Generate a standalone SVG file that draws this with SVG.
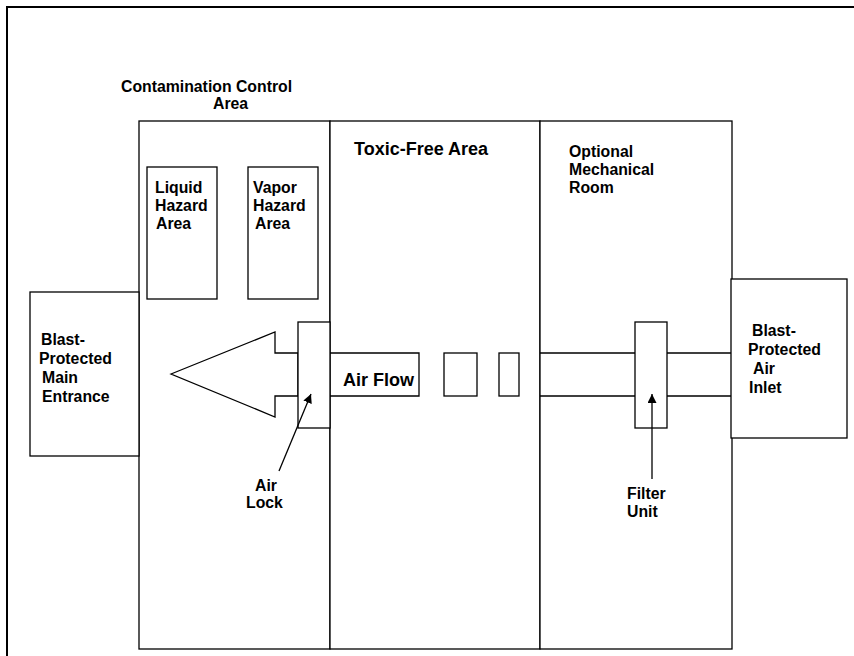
<svg xmlns="http://www.w3.org/2000/svg" width="854" height="656" viewBox="0 0 854 656">
<style>
.b{fill:#fff;stroke:#000;stroke-width:1.3}
.l{fill:none;stroke:#000;stroke-width:1.3}
text{font-family:"Liberation Sans",Arial,sans-serif;font-weight:bold;font-size:15.8px;fill:#000}
.big{font-size:18px}
</style>
<defs>
<marker id="ah" viewBox="0 0 10 10" refX="10" refY="5" markerWidth="9" markerHeight="9" markerUnits="userSpaceOnUse" orient="auto">
<path d="M0,0 L10,5 L0,10 Z" fill="#000"/>
</marker>
</defs>
<g id="frame">
<path d="M7,656 V7 H854" fill="none" stroke="#000" stroke-width="2"/>
</g>
<g id="contamination-control-area">
<rect class="b" x="139" y="121" width="191" height="528"/>
<text x="121" y="92">Contamination Control</text>
<text x="213" y="109">Area</text>
</g>
<g id="toxic-free-area">
<rect class="b" x="330" y="121" width="210" height="528"/>
<text class="big" x="354" y="155">Toxic-Free Area</text>
</g>
<g id="mechanical-room">
<rect class="b" x="540" y="121" width="192" height="528"/>
<text x="569" y="157">Optional</text>
<text x="569" y="175">Mechanical</text>
<text x="569" y="193">Room</text>
</g>
<g id="liquid-hazard">
<rect class="b" x="147" y="167" width="70" height="132"/>
<text x="155" y="193">Liquid</text>
<text x="155" y="211">Hazard</text>
<text x="156" y="229">Area</text>
</g>
<g id="vapor-hazard">
<rect class="b" x="248" y="167" width="70" height="132"/>
<text x="253" y="193">Vapor</text>
<text x="253" y="211">Hazard</text>
<text x="255" y="229">Area</text>
</g>
<g id="main-entrance">
<rect class="b" x="30" y="292" width="109" height="164"/>
<text x="41" y="345">Blast-</text>
<text x="39" y="364">Protected</text>
<text x="42" y="383">Main</text>
<text x="42" y="402">Entrance</text>
</g>
<g id="air-inlet">
<rect class="b" x="731" y="279" width="116" height="159"/>
<text x="752" y="336">Blast-</text>
<text x="748" y="355">Protected</text>
<text x="753" y="374">Air</text>
<text x="749" y="393">Inlet</text>
</g>
<g id="air-flow">
<path class="b" d="M171,374 L275,332 V353 H298 V396 H275 V417 Z"/>
<path class="l" d="M330,353 H419 V396 H330"/>
<rect class="b" x="444" y="353" width="33" height="43"/>
<rect class="b" x="499" y="353" width="20" height="43"/>
<path class="l" d="M540,353 H731 M540,396 H731"/>
<text class="big" x="343" y="386">Air Flow</text>
</g>
<g id="air-lock">
<rect class="b" x="298" y="322" width="32" height="106"/>
<text x="255" y="491">Air</text>
<text x="246" y="508">Lock</text>
</g>
<g id="filter-unit">
<rect class="b" x="635" y="322" width="32" height="106"/>
<text x="627" y="499">Filter</text>
<text x="627" y="517">Unit</text>
</g>
<g id="connectors">
<line class="l" x1="279" y1="471" x2="311" y2="394" marker-end="url(#ah)"/>
<line class="l" x1="652" y1="479" x2="652" y2="394" marker-end="url(#ah)"/>
</g>
</svg>
